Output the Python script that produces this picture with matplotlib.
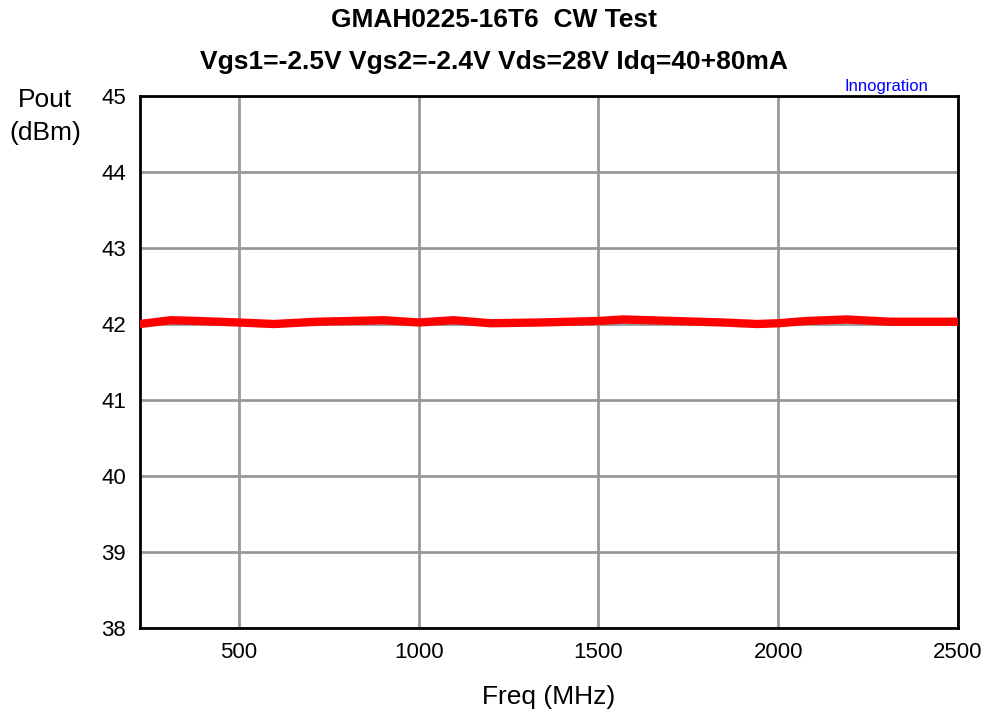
import matplotlib.pyplot as plt

# data
freq = [225, 311, 385, 500, 597, 719, 903, 1000, 1097, 1200, 1339, 1500, 1569, 1708, 1847, 1941, 2000, 2080, 2191, 2311, 2500]
pout = [42.00, 42.05, 42.04, 42.02, 42.00, 42.03, 42.05, 42.02, 42.05, 42.01, 42.02, 42.04, 42.06, 42.04, 42.02, 42.00, 42.01, 42.04, 42.06, 42.03, 42.03]

x_ticks = [500, 1000, 1500, 2000, 2500]
y_ticks = [38, 39, 40, 41, 42, 43, 44, 45]

plt.rcParams['font.family'] = ['Liberation Sans', 'DejaVu Sans']

fig = plt.figure(figsize=(9.88, 7.18), dpi=100)
ax = fig.add_axes([0.1417, 0.1253, 0.8279, 0.741])

ax.plot(freq, pout, color='#ff0000', linewidth=6, solid_joinstyle='round', zorder=3)

ax.set_xlim(225, 2500)
ax.set_ylim(38, 45)
ax.set_xticks(x_ticks)
ax.set_yticks(y_ticks)
ax.grid(True, color='#999999', linewidth=2)
ax.tick_params(length=0, labelsize=16, pad=10)
for s in ax.spines.values():
    s.set_linewidth(2)
    s.set_color('black')

ax.set_xlabel('Freq (MHz)', fontsize=19, labelpad=16)
fig.text(0.046, 0.838, 'Pout\n(dBm)', fontsize=19, ha='center', va='center', linespacing=1.45)
fig.text(0.5, 0.972, 'GMAH0225-16T6  CW Test', fontsize=19, fontweight='bold', ha='center', va='center')
fig.text(0.5, 0.914, 'Vgs1=-2.5V Vgs2=-2.4V Vds=28V Idq=40+80mA', fontsize=19, fontweight='bold', ha='center', va='center')
fig.text(0.897, 0.880, 'Innogration', fontsize=12, color='#0000ff', ha='center', va='center')

fig.savefig('out.png', dpi=100)
